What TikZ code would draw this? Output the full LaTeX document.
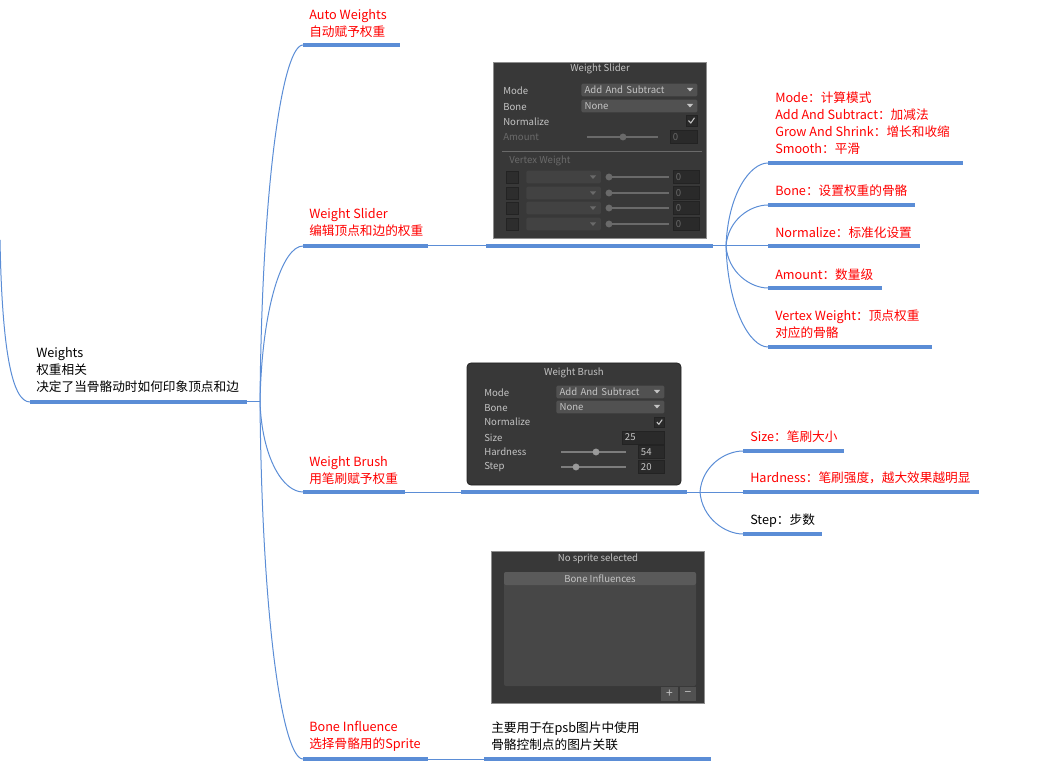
\documentclass[tikz,border=0pt]{standalone}
\usepackage{fontspec}
\setmainfont{Noto Sans CJK SC}

\definecolor{mapblue}{HTML}{5B8DD6}
\definecolor{mapred}{HTML}{FF0000}
\definecolor{uibg}{HTML}{383838}
\definecolor{uiframe}{HTML}{8E8E8E}
\definecolor{uiedge}{HTML}{232323}
\definecolor{uifield}{HTML}{515151}
\definecolor{uifielddim}{HTML}{424242}
\definecolor{uiinput}{HTML}{2A2A2A}
\definecolor{uitext}{HTML}{C4C4C4}
\definecolor{uidim}{HTML}{6A6A6A}
\definecolor{uiknob}{HTML}{9A9A9A}
\definecolor{uilisthead}{HTML}{5A5A5A}
\definecolor{uilist}{HTML}{474747}

\newcommand{\mapfont}{\fontsize{9.5}{12.75}\selectfont}
\newcommand{\uifont}{\fontsize{7.2}{8.5}\selectfont}

\tikzset{
  stem/.style={draw=mapblue, line width=0.75pt},
  bar/.style={draw=mapblue, line width=2.4pt},
  topic/.style={anchor=south west, inner sep=0pt, align=left, text=mapred, font=\mapfont},
  plain/.style={topic, text=black},
  uipanel/.style={fill=uibg, draw=uiframe, line width=0.6pt},
  uilabel/.style={anchor=west, inner sep=0pt, text=uitext, font=\uifont},
  uidimlabel/.style={uilabel, text=uidim},
  uititle/.style={inner sep=0pt, text=uitext, font=\uifont},
  dropfield/.style={anchor=west, fill=uifield, rounded corners=1pt, inner xsep=2.5pt, inner ysep=0pt,
    minimum height=9.5pt, align=left, text=uitext, font=\uifont},
  inputfield/.style={anchor=west, fill=uiinput, draw=uiedge, line width=0.4pt, inner xsep=2pt, inner ysep=0pt,
    minimum height=9.8pt, align=left, text=uitext, font=\uifont},
  checkbox/.style={fill=uiinput, draw=uiedge, line width=0.4pt, inner sep=0pt, minimum size=8.3pt},
  trackline/.style={draw=uidim, line width=0.9pt},
  tick/.style={draw=uitext, line width=0.8pt},
  uibutton/.style={fill=uifield, inner sep=0pt, minimum width=12.5pt, minimum height=10pt, text=uitext,
    font=\fontsize{9}{10}\selectfont},
}

\begin{document}
\begin{tikzpicture}[x=0.75pt, y=-0.75pt]
    \useasboundingbox (0,0) rectangle (1054,777);

    % --- ROOT ---
    \coordinate (parent) at (0,240);
    \coordinate (root-s) at (30,402);
    \coordinate (root-e) at (247,402);
    \coordinate (root-br) at (260,402);
    \node[plain] (root) at (36,393) {Weights\\权重相关\\决定了当骨骼动时如何印象顶点和边};
    \draw[stem] (parent) .. controls +(2,110) and +(-18,0) .. (root-s);
    \draw[bar] (root-s) -- (root-e);
    \draw[stem] (root-e) -- (root-br);

    % --- TOPICS ---
    \coordinate (aw-s) at (303,45);   \coordinate (aw-e) at (400,45);
    \coordinate (ws-s) at (303,246);  \coordinate (ws-e) at (428,246);
    \coordinate (wb-s) at (303,492);  \coordinate (wb-e) at (405,492);
    \coordinate (bi-s) at (303,759);  \coordinate (bi-e) at (428,759);

    \node[topic] (aw) at (309,37.5) {Auto Weights\\自动赋予权重};
    \node[topic] (ws) at (309,236.5) {Weight Slider\\编辑顶点和边的权重};
    \node[topic] (wb) at (309,484.5) {Weight Brush\\用笔刷赋予权重};
    \node[topic] (bi) at (309,751.5) {Bone Influence\\选择骨骼用的Sprite};

    \draw[stem] (root-br) .. controls +(2,-222) and +(-20,0) .. (aw-s);
    \draw[stem] (root-br) .. controls +(2,-97) and +(-20,0) .. (ws-s);
    \draw[stem] (root-br) .. controls +(2,56) and +(-20,0) .. (wb-s);
    \draw[stem] (root-br) .. controls +(2,222) and +(-20,0) .. (bi-s);
    \draw[bar] (aw-s) -- (aw-e);
    \draw[bar] (ws-s) -- (ws-e);
    \draw[bar] (wb-s) -- (wb-e);
    \draw[bar] (bi-s) -- (bi-e);

    % --- WEIGHT SLIDER: panel ---
    \draw[uipanel] (493,62) rectangle (706,238);
    \node[uititle] (ws-title) at (600,69) {Weight Slider};
    \node[uilabel] (ws-mode) at (503,91) {Mode};
    \node[uilabel] (ws-bone) at (503,107) {Bone};
    \node[uilabel] (ws-norm) at (503,122) {Normalize};
    \node[uidimlabel] (ws-amount) at (503,137) {Amount};
    \node[dropfield, text width=82pt] (ws-modebox) at (581,90) {Add And Subtract};
    \fill[uitext] (687,88) -- (693,88) -- (690,91.5) -- cycle;
    \node[dropfield, text width=82pt] (ws-bonebox) at (581,106) {None};
    \fill[uitext] (687,104) -- (693,104) -- (690,107.5) -- cycle;
    \node[checkbox] (ws-normbox) at (691.5,120.5) {};
    \draw[tick] (688.5,120.5) -- (690.8,123) -- (694.5,117.8);
    \draw[trackline] (587,137) -- (658,137);
    \fill[uidim] (623,137) circle (2.6pt);
    \node[inputfield, text=uidim, text width=16pt] (ws-amountval) at (670,137) {0};
    \draw[uidim, line width=0.6pt] (502,151) -- (702,151);
    \node[uidimlabel] (ws-vw) at (509,161) {Vertex Weight};
    \foreach \y in {177,193,208,224} {
        \node[checkbox, fill=uiinput!80!uibg, minimum size=8.8pt] (vw-chk-\y) at (512,\y) {};
        \node[dropfield, fill=uifielddim, text width=51pt] (vw-drop-\y) at (526,\y) {};
        \fill[uidim] (590,\y) ++(0,-1.5) -- ++(6,0) -- ++(-3,3.5) -- cycle;
        \draw[trackline] (609,\y) -- (669,\y);
        \fill[uidim] (609,\y) circle (2.6pt);
        \node[inputfield, text=uidim, text width=15.5pt] (vw-val-\y) at (673,\y) {0};
    }

    % --- WEIGHT SLIDER: link and children ---
    \coordinate (wsimg-s) at (486,246);  \coordinate (wsimg-e) at (713,246);
    \coordinate (ws-br) at (726,246);
    \draw[stem] (ws-e) -- (wsimg-s);
    \draw[bar] (wsimg-s) -- (wsimg-e);
    \draw[stem] (wsimg-e) -- (ws-br);

    \coordinate (mo-s) at (768,163);  \coordinate (mo-e) at (963,163);
    \coordinate (bo-s) at (768,205);  \coordinate (bo-e) at (915,205);
    \coordinate (no-s) at (768,246);  \coordinate (no-e) at (920,246);
    \coordinate (am-s) at (768,288);  \coordinate (am-e) at (882,288);
    \coordinate (vw-s) at (768,347);  \coordinate (vw-e) at (932,347);

    \node[topic] (mo) at (775,154.5) {Mode：计算模式\\Add And Subtract：加减法\\Grow And Shrink：增长和收缩\\Smooth：平滑};
    \node[topic] (bo) at (775,196.5) {Bone：设置权重的骨骼};
    \node[topic] (no) at (775,238.5) {Normalize：标准化设置};
    \node[topic] (am) at (775,280.5) {Amount：数量级};
    \node[topic] (vw) at (775,338.5) {Vertex Weight：顶点权重\\对应的骨骼};

    \draw[stem] (ws-br) .. controls +(2,-52) and +(-18,0) .. (mo-s);
    \draw[stem] (ws-br) .. controls +(2,-26) and +(-18,0) .. (bo-s);
    \draw[stem] (ws-br) -- (no-s);
    \draw[stem] (ws-br) .. controls +(2,26) and +(-18,0) .. (am-s);
    \draw[stem] (ws-br) .. controls +(2,63) and +(-18,0) .. (vw-s);
    \draw[bar] (mo-s) -- (mo-e);
    \draw[bar] (bo-s) -- (bo-e);
    \draw[bar] (no-s) -- (no-e);
    \draw[bar] (am-s) -- (am-e);
    \draw[bar] (vw-s) -- (vw-e);

    % --- WEIGHT BRUSH: panel ---
    \draw[uipanel, draw=uiedge, rounded corners=3pt] (467,363) rectangle (681,485);
    \node[uititle] (wb-title) at (574,373) {Weight Brush};
    \node[uilabel] (wb-mode) at (484,393) {Mode};
    \node[uilabel] (wb-bone) at (484,408) {Bone};
    \node[uilabel] (wb-norm) at (484,422) {Normalize};
    \node[uilabel] (wb-size) at (484,438) {Size};
    \node[uilabel] (wb-hard) at (484,452) {Hardness};
    \node[uilabel] (wb-step) at (484,467) {Step};
    \node[dropfield, text width=76pt] (wb-modebox) at (556,392) {Add And Subtract};
    \fill[uitext] (654,390) -- (660,390) -- (657,393.5) -- cycle;
    \node[dropfield, text width=76pt] (wb-bonebox) at (556,407) {None};
    \fill[uitext] (654,405) -- (660,405) -- (657,408.5) -- cycle;
    \node[checkbox, minimum size=7.6pt] (wb-normbox) at (659.5,422) {};
    \draw[tick] (656.8,422) -- (658.9,424.3) -- (662.2,419.6);
    \node[inputfield, text width=27.5pt] (wb-sizeval) at (622,437.5) {25};
    \draw[trackline, draw=uiknob!70!uibg] (561,452) -- (626,452);
    \fill[uiknob] (596,452) circle (2.6pt);
    \node[inputfield, text width=15.5pt] (wb-hardval) at (638,452) {54};
    \draw[trackline, draw=uiknob!70!uibg] (561,467) -- (626,467);
    \fill[uiknob] (576,467) circle (2.6pt);
    \node[inputfield, text width=15.5pt] (wb-stepval) at (638,467) {20};

    % --- WEIGHT BRUSH: link and children ---
    \coordinate (wbimg-s) at (461,492);  \coordinate (wbimg-e) at (687,492);
    \coordinate (wb-br) at (700,492);
    \draw[stem] (wb-e) -- (wbimg-s);
    \draw[bar] (wbimg-s) -- (wbimg-e);
    \draw[stem] (wbimg-e) -- (wb-br);

    \coordinate (sz-s) at (743,451);  \coordinate (sz-e) at (844,451);
    \coordinate (hd-s) at (743,492);  \coordinate (hd-e) at (979,492);
    \coordinate (st-s) at (743,534);  \coordinate (st-e) at (822,534);

    \node[topic] (sz) at (750,442.5) {Size：笔刷大小};
    \node[topic] (hd) at (750,484.5) {Hardness：笔刷强度，越大效果越明显};
    \node[plain] (st) at (750,527.5) {Step：步数};

    \draw[stem] (wb-br) .. controls +(2,-26) and +(-18,0) .. (sz-s);
    \draw[stem] (wb-br) -- (hd-s);
    \draw[stem] (wb-br) .. controls +(2,26) and +(-18,0) .. (st-s);
    \draw[bar] (sz-s) -- (sz-e);
    \draw[bar] (hd-s) -- (hd-e);
    \draw[bar] (st-s) -- (st-e);

    % --- BONE INFLUENCE: panel ---
    \draw[uipanel] (491,551) rectangle (704,703);
    \node[uititle] (bi-title) at (598,559) {No sprite selected};
    \fill[uilist, rounded corners=1.5pt] (504,572) rectangle (696,686);
    \fill[uilisthead, rounded corners=1.5pt] (504,572) rectangle (696,585);
    \node[uititle] (bi-head) at (600,578.5) {Bone Influences};
    \node[uibutton] (bi-plus) at (669.5,694) {+};
    \node[uibutton, minimum width=12pt] (bi-minus) at (688,694) {−};

    % --- BONE INFLUENCE: link and note ---
    \coordinate (biimg-s) at (484,759);  \coordinate (biimg-e) at (711,759);
    \node[plain] (bi-note) at (491,750.5) {主要用于在psb图片中使用\\骨骼控制点的图片关联};
    \draw[stem] (bi-e) -- (biimg-s);
    \draw[bar] (biimg-s) -- (biimg-e);

\end{tikzpicture}
\end{document}
